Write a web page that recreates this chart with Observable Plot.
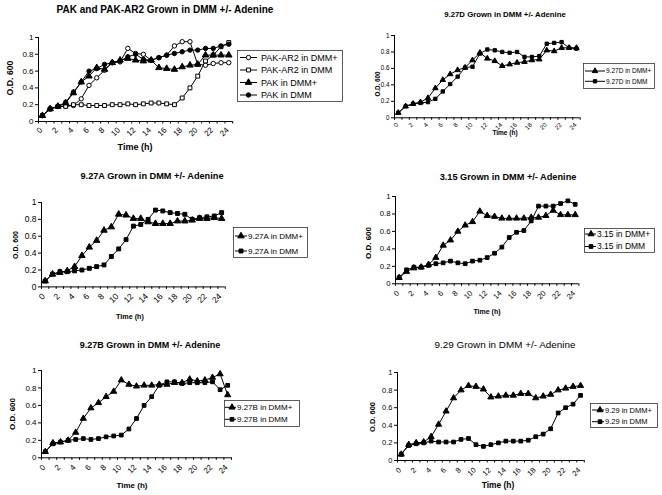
<!DOCTYPE html>
<html><head><meta charset="utf-8">
<script src="https://cdn.jsdelivr.net/npm/d3@7"></script>
<script src="https://cdn.jsdelivr.net/npm/@observablehq/plot@0.6"></script>
<style>
html,body{margin:0;padding:0;background:#fff;}
#root{position:relative;width:662px;height:495px;overflow:hidden;background:#fff;font-family:"Liberation Sans",Arial,Helvetica,sans-serif;color:#000;}
.t{position:absolute;white-space:nowrap;line-height:1;transform:translate(-50%,-50%);}
.plot{position:absolute;}
</style></head>
<body><div id="root"></div>
<script>
// ---------- data ----------
const hours = [0,1,2,3,4,5,6,7,8,9,10,11,12,13,14,15,16,17,18,19,20,21,22,23,24];
const xTickLabels = [0,2,4,6,8,10,12,14,16,18,20,22,24];
const yTickValues = [0,0.2,0.4,0.6,0.8,1];

const titles = [
  "PAK and PAK-AR2 Grown in DMM +/- Adenine",
  "9.27D Grown in DMM +/- Adenine",
  "9.27A Grown in DMM +/- Adenine",
  "3.15 Grown in DMM +/- Adenine",
  "9.27B Grown in DMM +/- Adenine",
  "9.29 Grown in DMM +/- Adenine"
];
const xTitle = "Time (h)";
const yTitle = "O.D. 600";

const legendNames = [
  ["PAK-AR2 in DMM+","PAK-AR2 in DMM","PAK in DMM+","PAK in DMM"],
  ["9.27D in DMM+","9.27D in DMM"],
  ["9.27A in DMM+","9.27A in DMM"],
  ["3.15 in DMM+","3.15 in DMM"],
  ["9.27B in DMM+","9.27B in DMM"],
  ["9.29 in DMM+","9.29 in DMM"]
];

// Panel 1
const pakAR2Plus = [0.07,0.15,0.18,0.18,0.19,0.27,0.43,0.52,0.61,0.70,0.71,0.87,0.81,0.80,0.73,0.76,0.79,0.90,0.95,0.95,0.68,0.67,0.69,0.70,0.70];
const pakAR2Minus = [0.07,0.15,0.18,0.18,0.20,0.20,0.19,0.19,0.19,0.20,0.20,0.21,0.20,0.21,0.22,0.22,0.21,0.20,0.28,0.40,0.54,0.72,0.79,0.89,0.94];
const pakPlus = [0.07,0.15,0.18,0.22,0.34,0.47,0.54,0.64,0.62,0.70,0.73,0.75,0.73,0.72,0.73,0.64,0.63,0.62,0.65,0.67,0.68,0.79,0.79,0.79,0.79];
const pakMinus = [0.07,0.15,0.18,0.23,0.35,0.47,0.60,0.63,0.68,0.70,0.72,0.77,0.80,0.74,0.73,0.76,0.79,0.81,0.83,0.85,0.85,0.87,0.87,0.90,0.92];
// Panel 2
const d927Plus = [0.06,0.14,0.17,0.19,0.24,0.36,0.46,0.53,0.58,0.61,0.70,0.79,0.72,0.69,0.63,0.65,0.67,0.68,0.70,0.71,0.82,0.81,0.85,0.85,0.85];
const d927Minus = [0.06,0.14,0.17,0.18,0.19,0.23,0.32,0.41,0.50,0.61,0.62,0.78,0.83,0.82,0.80,0.79,0.80,0.74,0.74,0.75,0.90,0.91,0.92,0.85,0.84];
// Panel 3
const a927Plus = [0.07,0.15,0.17,0.19,0.24,0.37,0.47,0.55,0.67,0.71,0.86,0.85,0.81,0.81,0.77,0.75,0.75,0.75,0.78,0.78,0.79,0.81,0.81,0.82,0.81];
const a927Minus = [0.07,0.15,0.18,0.18,0.19,0.20,0.22,0.24,0.26,0.36,0.45,0.56,0.72,0.74,0.80,0.91,0.90,0.88,0.87,0.86,0.80,0.82,0.83,0.84,0.88];
// Panel 4
const s315Plus = [0.07,0.14,0.18,0.19,0.22,0.30,0.44,0.50,0.60,0.67,0.71,0.83,0.78,0.77,0.75,0.75,0.75,0.75,0.76,0.76,0.78,0.84,0.79,0.79,0.79];
const s315Minus = [0.07,0.16,0.19,0.19,0.21,0.23,0.24,0.26,0.24,0.23,0.26,0.27,0.30,0.35,0.42,0.53,0.59,0.61,0.72,0.89,0.89,0.89,0.92,0.95,0.91];
// Panel 5
const b927Plus = [0.07,0.17,0.18,0.20,0.29,0.45,0.57,0.63,0.70,0.76,0.89,0.84,0.82,0.83,0.83,0.84,0.84,0.86,0.86,0.90,0.88,0.89,0.92,0.96,0.72];
const b927Minus = [0.07,0.16,0.18,0.20,0.21,0.22,0.21,0.22,0.24,0.25,0.26,0.33,0.45,0.60,0.70,0.83,0.87,0.87,0.85,0.86,0.86,0.86,0.87,0.78,0.83];
// Panel 6
const s929Plus = [0.07,0.18,0.20,0.21,0.27,0.41,0.56,0.71,0.80,0.85,0.84,0.81,0.72,0.73,0.74,0.74,0.76,0.76,0.71,0.73,0.75,0.80,0.82,0.84,0.85];
const s929Minus = [0.07,0.17,0.19,0.20,0.22,0.21,0.21,0.21,0.24,0.25,0.18,0.16,0.18,0.20,0.22,0.22,0.22,0.23,0.27,0.30,0.36,0.54,0.60,0.64,0.74];

// ---------- panel definitions ----------
const panels = [
  {series: [
    {values: pakAR2Plus, symbol: "circle", open: true},
    {values: pakAR2Minus, symbol: "square", open: true},
    {values: pakPlus, symbol: "triangle", open: false},
    {values: pakMinus, symbol: "circle", open: false}]},
  {series: [{values: d927Plus, symbol: "triangle"}, {values: d927Minus, symbol: "square"}]},
  {series: [{values: a927Plus, symbol: "triangle"}, {values: a927Minus, symbol: "square"}]},
  {series: [{values: s315Plus, symbol: "triangle"}, {values: s315Minus, symbol: "square"}]},
  {series: [{values: b927Plus, symbol: "triangle"}, {values: b927Minus, symbol: "square"}]},
  {series: [{values: s929Plus, symbol: "triangle"}, {values: s929Minus, symbol: "square"}]}
];

// layout (page coordinates)
const layouts = [
  {x1:38.4,x2:232.6,yT:36.7,yB:120.7,tick:8,ms:1,ldy:9,
   title:{x:165,y:10,size:10,weight:700}, time:{x:135,y:147,size:9}, od:{x:10,y:78,size:8.7},
   legend:{x1:237,x2:343,y1:50,y2:102,rows:[57.5,70,82.5,95],l1:240,l2:257,m:248.5,tx:261,size:9}},
  {x1:394,x2:579.7,yT:35,yB:117.3,tick:6.3,ms:0.85,ldy:7.5,
   title:{x:505,y:15,size:7.8,weight:700}, time:{x:505,y:133,size:6.5}, od:{x:378,y:84,size:6.3},
   legend:{x1:583,x2:655,y1:63,y2:89,rows:[71,81.3],l1:585,l2:605,m:595,tx:606,size:6.5}},
  {x1:40.6,x2:224.4,yT:202.3,yB:286.7,tick:8.5,ms:1,ldy:10,
   title:{x:152,y:177,size:9.2,weight:700}, time:{x:130,y:317,size:7.2}, od:{x:15,y:245,size:7},
   legend:{x1:233,x2:308,y1:227,y2:258,rows:[236,251],l1:235,l2:247,m:241,tx:248,size:8}},
  {x1:395.3,x2:578.7,yT:196,yB:283.3,tick:7.7,ms:0.95,ldy:10,
   title:{x:508,y:178,size:9.2,weight:700}, time:{x:487,y:311,size:7}, od:{x:369,y:243,size:8},
   legend:{x1:584,x2:655,y1:228,y2:253,rows:[234,246.5],l1:585,l2:596,m:591,tx:597,size:8.5}},
  {x1:40.5,x2:230.5,yT:370,yB:457.3,tick:8,ms:0.95,ldy:10,
   title:{x:150,y:345,size:9,weight:700}, time:{x:132,y:486,size:8}, od:{x:13,y:414,size:8},
   legend:{x1:224,x2:300,y1:400,y2:427,rows:[407.3,419.3],l1:225,l2:236,m:232,tx:237,size:8}},
  {x1:396.9,x2:583.7,yT:372,yB:460,tick:7.5,ms:0.95,ldy:10,
   title:{x:505,y:345,size:9.9,weight:400}, time:{x:498,y:485,size:8.4}, od:{x:373,y:417,size:7.5},
   legend:{x1:590,x2:658,y1:403,y2:428,rows:[410,421.7],l1:592,l2:604,m:600,tx:605,size:7.5}}
];

const FONT = '"Liberation Sans", Arial, Helvetica, sans-serif';
const root = document.getElementById("root");
const boundaries = [-0.5].concat(hours.map(h => h + 0.5));
const symR = {triangle: 2.4, square: 2.2, circle: 2.2};

function addText(txt, x, y, size, weight, rotate) {
  const d = document.createElement("div");
  d.className = "t";
  d.textContent = txt;
  d.style.left = x + "px";
  d.style.top = y + "px";
  d.style.fontSize = size + "px";
  d.style.fontWeight = weight;
  if (rotate) d.style.transform = "translate(-50%,-50%) rotate(-90deg)";
  root.appendChild(d);
}

panels.forEach((P, pi) => {
  const L = layouts[pi];
  const ml = 40, mr = 8, mt = 8, mb = 30;
  const fw = L.x2 - L.x1, fh = L.yB - L.yT;
  const marks = [
    Plot.axisY({ticks: yTickValues, tickSize: 3, tickPadding: 2, tickFormat: d => String(d), stroke: "#000", label: null}),
    Plot.axisX({ticks: boundaries, tickSize: 2.5, tickFormat: () => "", stroke: "#000", label: null}),
    Plot.ruleY([0], {stroke: "#000", strokeWidth: 1}),
    Plot.ruleX([-0.5], {stroke: "#000", strokeWidth: 1}),
    Plot.text(xTickLabels, {x: d => d, frameAnchor: "bottom", rotate: -45, textAnchor: "end", dy: L.ldy, dx: 0.5, fill: "#000"})
  ];
  P.series.forEach(s => {
    const pts = hours.map((h, i) => ({h, v: s.values[i]}));
    marks.push(Plot.line(pts, {x: "h", y: "v", stroke: "#000", strokeWidth: 1}));
  });
  P.series.forEach(s => {
    const pts = hours.map((h, i) => ({h, v: s.values[i]}));
    marks.push(Plot.dot(pts, {x: "h", y: "v", symbol: s.symbol, r: symR[s.symbol] * L.ms,
      fill: s.open ? "#fff" : "#000", stroke: "#000", strokeWidth: 1}));
  });
  const svg = Plot.plot({
    width: fw + ml + mr, height: fh + mt + mb,
    marginLeft: ml, marginRight: mr, marginTop: mt, marginBottom: mb,
    x: {domain: [-0.5, 24.5], axis: null},
    y: {domain: [0, 1], axis: null},
    style: {fontFamily: FONT, fontSize: L.tick + "px", background: "transparent", color: "#000", overflow: "visible"},
    marks
  });
  svg.classList.add("plot");
  svg.style.left = (L.x1 - ml) + "px";
  svg.style.top = (L.yT - mt) + "px";
  root.appendChild(svg);

  addText(titles[pi], L.title.x, L.title.y, L.title.size, L.title.weight);
  addText(xTitle, L.time.x, L.time.y, L.time.size, 700);
  addText(yTitle, L.od.x, L.od.y, L.od.size, 700, true);

  // legend
  const G = L.legend;
  const w = G.x2 - G.x1, h = G.y2 - G.y1;
  const lg = d3.create("svg").attr("width", w).attr("height", h)
    .style("position", "absolute").style("left", G.x1 + "px").style("top", G.y1 + "px")
    .style("overflow", "visible");
  lg.append("rect").attr("x", 0.5).attr("y", 0.5).attr("width", w - 1).attr("height", h - 1)
    .attr("fill", "#fff").attr("stroke", "#333").attr("stroke-width", 0.8);
  const typeOf = {triangle: d3.symbolTriangle, square: d3.symbolSquare, circle: d3.symbolCircle};
  P.series.forEach((s, i) => {
    const yy = G.rows[i] - G.y1;
    lg.append("line").attr("x1", G.l1 - G.x1).attr("x2", G.l2 - G.x1).attr("y1", yy).attr("y2", yy)
      .attr("stroke", "#000").attr("stroke-width", 1);
    const r = symR[s.symbol] * L.ms;
    lg.append("path").attr("d", d3.symbol(typeOf[s.symbol], r * r * Math.PI)())
      .attr("transform", `translate(${G.m - G.x1},${yy})`)
      .attr("fill", s.open ? "#fff" : "#000").attr("stroke", "#000").attr("stroke-width", 1);
    lg.append("text").attr("x", G.tx - G.x1).attr("y", yy).attr("dy", "0.35em")
      .attr("font-family", FONT).attr("font-size", G.size).attr("fill", "#000")
      .text(legendNames[pi][i]);
  });
  root.appendChild(lg.node());
});
</script>
</body></html>
